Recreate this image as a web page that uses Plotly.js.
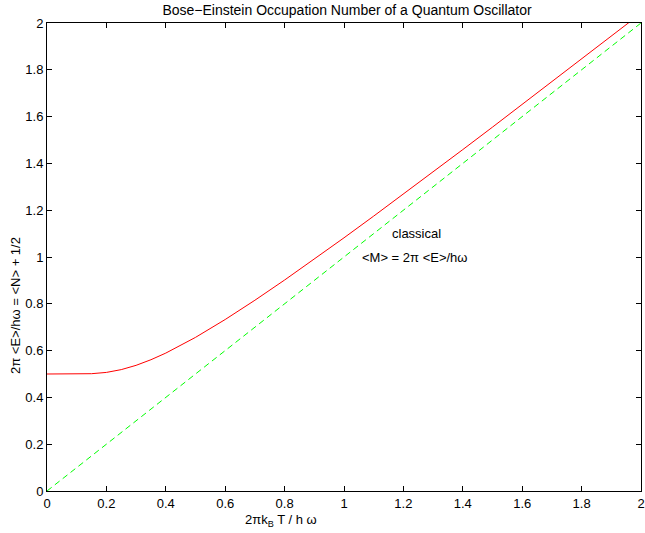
<!DOCTYPE html>
<html>
<head>
<meta charset="utf-8">
<script src="https://cdn.plot.ly/plotly-3.0.1.min.js"></script>
<style>html,body{margin:0;padding:0;background:#fff;}</style>
</head>
<body>
<div id="chart" style="width:645px;height:533px;"></div>
<script>
// Quantum oscillator mean energy
const tempX = [0, 0.05, 0.1, 0.15, 0.2, 0.25, 0.3, 0.35, 0.4, 0.45, 0.5, 0.6, 0.7, 0.8, 0.9, 1.0, 1.1, 1.2, 1.3, 1.4, 1.5, 1.6, 1.7, 1.8, 1.9, 2.0];
const quantumY = [0.5, 0.5, 0.5, 0.5013, 0.5068, 0.5187, 0.537, 0.561, 0.5894, 0.6215, 0.6565, 0.7329, 0.8152, 0.9016, 0.9908, 1.082, 1.1748, 1.2687, 1.3636, 1.459, 1.5551, 1.6519, 1.7487, 1.846, 1.9438, 2.0415];
// Classical line
const classicalX = [0, 2];
const classicalY = [0, 2];
const xTicks = [0, 0.2, 0.4, 0.6, 0.8, 1, 1.2, 1.4, 1.6, 1.8, 2];
const yTicks = [0, 0.2, 0.4, 0.6, 0.8, 1, 1.2, 1.4, 1.6, 1.8, 2];
const tickText = ['0', '0.2', '0.4', '0.6', '0.8', '1', '1.2', '1.4', '1.6', '1.8', '2'];

const font = {family: 'Liberation Sans, Arial, sans-serif', size: 13, color: '#000'};
const titleFont = {family: 'Liberation Sans, Arial, sans-serif', size: 14, color: '#000'};

const traces = [
  {x: tempX, y: quantumY, type: 'scatter', mode: 'lines', line: {color: '#ff0000', width: 1}, hoverinfo: 'skip'},
  {x: classicalX, y: classicalY, type: 'scatter', mode: 'lines', line: {color: '#00ff00', width: 1, dash: '6px,4px'}, hoverinfo: 'skip'}
];

const axisCommon = {
  showgrid: false, zeroline: false, showline: true, linecolor: '#000', linewidth: 1,
  mirror: 'ticks', ticks: 'inside', ticklen: 5, tickcolor: '#000', tickwidth: 1,
  tickfont: font
};

const W = 645, H = 533, L = 47, R = 4, T = 23, B = 42;
const px = x => (x - L) / (W - L - R);
const py = y => (H - B - y) / (H - T - B);

const layout = {
  width: W, height: H,
  margin: {l: L, r: R, t: T, b: B},
  paper_bgcolor: '#fff', plot_bgcolor: '#fff',
  showlegend: false,
  font: font,
  title: {text: 'Bose\u2212Einstein Occupation Number of a Quantum Oscillator', font: titleFont, x: 347 / W, xanchor: 'center', y: 1 - 10 / H, yanchor: 'middle'},
  xaxis: Object.assign({}, axisCommon, {range: [0, 2], tickvals: xTicks, ticktext: tickText}),
  yaxis: Object.assign({}, axisCommon, {range: [0, 2], tickvals: yTicks, ticktext: tickText}),
  annotations: [
    {x: 1.155, y: 1.1, xref: 'x', yref: 'y', text: 'classical', showarrow: false, xanchor: 'left', yanchor: 'middle', font: font},
    {x: 1.054, y: 1.0, xref: 'x', yref: 'y', text: '&lt;M&gt; = 2\u03c0 &lt;E&gt;/h\u03c9', showarrow: false, xanchor: 'left', yanchor: 'middle', font: font},
    {x: px(281), y: py(520), xref: 'paper', yref: 'paper', text: '2\u03c0k<sub>B</sub> T / h \u03c9', showarrow: false, xanchor: 'center', yanchor: 'middle', font: font},
    {x: px(15), y: py(306), xref: 'paper', yref: 'paper', text: '2\u03c0 &lt;E&gt;/h\u03c9 = &lt;N&gt; + 1/2', showarrow: false, textangle: -90, xanchor: 'center', yanchor: 'middle', font: font}
  ]
};

Plotly.newPlot('chart', traces, layout, {displayModeBar: false, staticPlot: true});
</script>
</body>
</html>
